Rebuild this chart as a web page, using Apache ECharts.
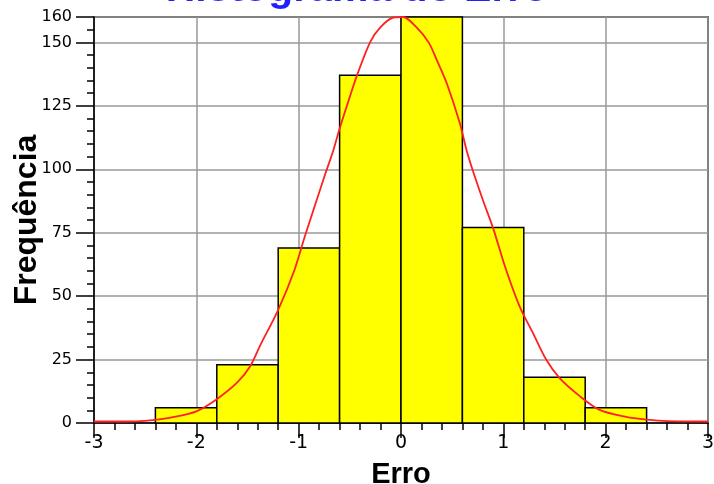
<!DOCTYPE html>
<html>
<head>
<meta charset="utf-8">
<script src="https://cdn.jsdelivr.net/npm/echarts@6/dist/echarts.min.js"></script>
<style>
  html, body { margin: 0; padding: 0; background: #fff; }
  #chart { width: 714px; height: 484px; }
</style>
</head>
<body>
<div id="chart"></div>
<script>
// Histogram bin edges and counts
const binEdges = [-2.4, -1.8, -1.2, -0.6, 0, 0.6, 1.2, 1.8, 2.4];
const binCounts = [6, 23, 69, 137, 160, 77, 18, 6];

// Fitted normal curve (x, frequency)
const curveX = [-3, -2.7, -2.5, -2.39, -2.2, -2.0, -1.8, -1.6, -1.475, -1.377, -1.2, -1.04, -0.94, -0.737, -0.66, -0.6, -0.5, -0.43, -0.3, -0.2, -0.075, 0.02, 0.15, 0.27, 0.35, 0.447, 0.576, 0.64, 0.70, 0.80, 0.90, 1.016, 1.16, 1.29, 1.42, 1.55, 1.75, 1.94, 2.2, 2.4, 2.6, 3];
const curveY = [0.6, 0.6, 0.8, 1.3, 2.5, 4.6, 9.4, 16, 22.3, 30.5, 44.6, 60.4, 73.5, 98.5, 107.6, 116, 128.6, 137, 150.2, 156, 159.8, 160, 156, 150, 143, 133.9, 118, 107.6, 99.7, 87.9, 76.8, 61.7, 45.9, 35.4, 24.9, 17.7, 10.5, 5.2, 2.4, 1.3, 0.7, 0.6];

// Axis settings
const xMin = -3, xMax = 3, xStep = 1, xMinorStep = 0.2;
const yMin = 0, yMax = 160, yStep = 25, yMinorStep = 5;

const binData = binCounts.map((c, i) => [binEdges[i], binEdges[i + 1], c]);
const curveData = curveX.map((x, i) => [x, curveY[i]]);

const chart = echarts.init(document.getElementById('chart'), null, { renderer: 'canvas' });

const tickFont = 'DejaVu Sans, Verdana, sans-serif';
const boldFont = 'Liberation Sans, Arial, sans-serif';

chart.setOption({
  animation: false,
  backgroundColor: '#fff',
  title: {
    text: 'Histograma do Erro',
    left: 'center',
    top: -36,
    textStyle: { color: '#1f1fff', fontSize: 41, fontWeight: 'bold', fontFamily: boldFont }
  },
  grid: {
    left: 94, right: 6, top: 17, bottom: 61,
    outerBoundsMode: 'none',
    containLabel: false,
    show: true, borderColor: '#000', borderWidth: 1.5, backgroundColor: 'transparent'
  },
  xAxis: [
    {
      type: 'value', min: xMin, max: xMax, interval: xStep,
      name: 'Erro', nameLocation: 'middle', nameGap: 37, nameMoveOverlap: false,
      nameTextStyle: { fontFamily: boldFont, fontSize: 29, fontWeight: 'bold', color: '#000' },
      axisLine: { onZero: false, lineStyle: { color: '#000', width: 1.5 } },
      axisTick: { inside: false, length: 15, lineStyle: { color: '#000', width: 1.5 } },
      axisLabel: { margin: 11, fontSize: 19, fontFamily: tickFont, color: '#000' },
      splitLine: { show: true, lineStyle: { color: '#999', width: 1.5 } }
    },
    {
      type: 'value', min: xMin, max: xMax, interval: xMinorStep, position: 'bottom',
      axisLine: { show: false, onZero: false },
      axisTick: { inside: false, length: 7, lineStyle: { color: '#000', width: 1.5 } },
      axisLabel: { show: false },
      splitLine: { show: false }
    }
  ],
  yAxis: [
    {
      type: 'value', min: yMin, max: yMax, interval: yStep, position: 'left',
      name: 'Frequência', nameLocation: 'middle', nameGap: 51, nameRotate: 90, nameMoveOverlap: false,
      nameTextStyle: { fontFamily: boldFont, fontSize: 32, fontWeight: 'bold', color: '#000' },
      axisLine: { show: true, onZero: false, lineStyle: { color: '#000', width: 1.5 } },
      axisTick: { show: true, inside: false, length: 18, lineStyle: { color: '#000', width: 1.5 } },
      axisLabel: { margin: 22, fontSize: 16, fontFamily: tickFont, color: '#000' },
      splitLine: { show: true, lineStyle: { color: '#999', width: 1.5 } }
    },
    {
      type: 'value', min: yMin, max: yMax, interval: yMinorStep, position: 'left',
      axisLine: { show: false, onZero: false },
      axisTick: { show: true, inside: false, length: 7, lineStyle: { color: '#000', width: 1.5 } },
      axisLabel: { show: false },
      splitLine: { show: false }
    }
  ],
  series: [
    {
      type: 'custom',
      xAxisIndex: 0, yAxisIndex: 0,
      data: binData,
      encode: { x: [0, 1], y: 2 },
      renderItem: function (params, api) {
        const p0 = api.coord([api.value(0), api.value(2)]);
        const p1 = api.coord([api.value(1), 0]);
        return {
          type: 'rect',
          shape: { x: p0[0], y: p0[1], width: p1[0] - p0[0], height: p1[1] - p0[1] },
          style: { fill: '#ffff00', stroke: '#000', lineWidth: 1.5 }
        };
      },
      z: 2
    },
    {
      type: 'line',
      xAxisIndex: 0, yAxisIndex: 0,
      data: curveData,
      showSymbol: false,
      smooth: 0.3,
      clip: true,
      lineStyle: { color: '#ff2020', width: 1.8 },
      z: 3
    }
  ]
});
</script>
</body>
</html>
